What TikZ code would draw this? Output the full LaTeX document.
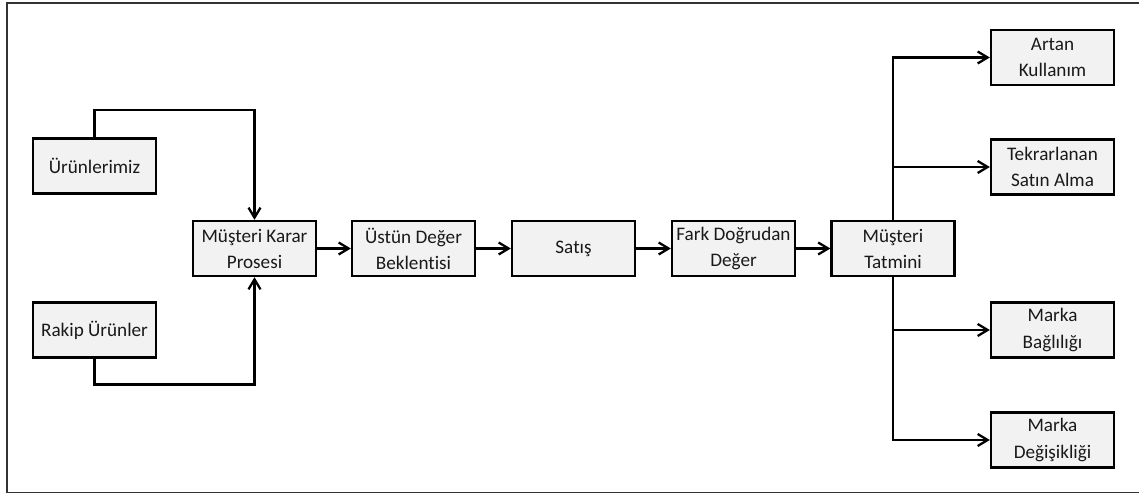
\documentclass[tikz,border=0pt]{standalone}
\usepackage{fontspec}
\setmainfont[Ligatures=NoCommon]{Carlito}
\usetikzlibrary{positioning}
\usetikzlibrary{calc}
\usetikzlibrary{arrows.meta}
\tikzset{>=stealth}
\tikzstyle{line} = [draw, -{Straight Barb[length=2mm,width=2.4mm]}, line width=1.3pt]

\begin{document}
\begin{tikzpicture}[%
      auto,
      box/.style={minimum width=2.46cm,
      minimum height=1.1cm,
      inner sep=0pt,
      draw,
      line width=1.3pt,
      fill=black!5,
      align=center,
      text=black!90,
      font=\fontsize{10.9}{14.8}\selectfont}]
    \useasboundingbox (0,0) rectangle (22.78,9.88);
    %% frame
    \draw [black!80, line width=0.9pt] (22.9,9.82) -- (0.14,9.82) -- (0.14,0.03) -- (22.9,0.03);
    %% Inputs
    \node [box] at (1.89,6.56) (Urun) {Ürünlerimiz};
    \node [box] at (1.89,3.28) (Rakip) {Rakip Ürünler};
    %% Main chain
    \node [box] at (5.09,4.91) (Karar) {Müşteri Karar\\Prosesi};
    \node [box] at (8.27,4.91) (Ustun) {Üstün Değer\\Beklentisi};
    \node [box] at (11.47,4.91) (Satis) {Satış};
    \node [box] at (14.67,4.91) (Fark) {Fark Doğrudan\\Değer};
    \node [box] at (17.86,4.91) (Tatmin) {Müşteri\\Tatmini};
    %% Outcomes
    \node [box] at (21.05,8.73) (Artan) {Artan\\Kullanım};
    \node [box] at (21.05,6.54) (Tekrar) {Tekrarlanan\\Satın Alma};
    \node [box] at (21.05,3.28) (Bagli) {Marka\\Bağlılığı};
    \node [box] at (21.05,1.08) (Degis) {Marka\\Değişikliği};
    %%
    %% Inputs to decision
    \coordinate (UrunTop) at ($(Urun.north)+(0,0.54)$);
    \coordinate (RakipBot) at ($(Rakip.south)+(0,-0.52)$);
    \path [line] (Urun.north) -- (UrunTop) -| (Karar.north);
    \path [line] (Rakip.south) -- (RakipBot) -| (Karar.south);
    %% Chain
    \path [line] (Karar) -- (Ustun);
    \path [line] (Ustun) -- (Satis);
    \path [line] (Satis) -- (Fark);
    \path [line] (Fark) -- (Tatmin);
    %% Outcomes
    \path [line] (Tatmin.north) |- (Artan);
    \path [line] (Tatmin.north) |- (Tekrar);
    \path [line] (Tatmin.south) |- (Bagli);
    \path [line] (Tatmin.south) |- (Degis);
  \end{tikzpicture}
\end{document}
